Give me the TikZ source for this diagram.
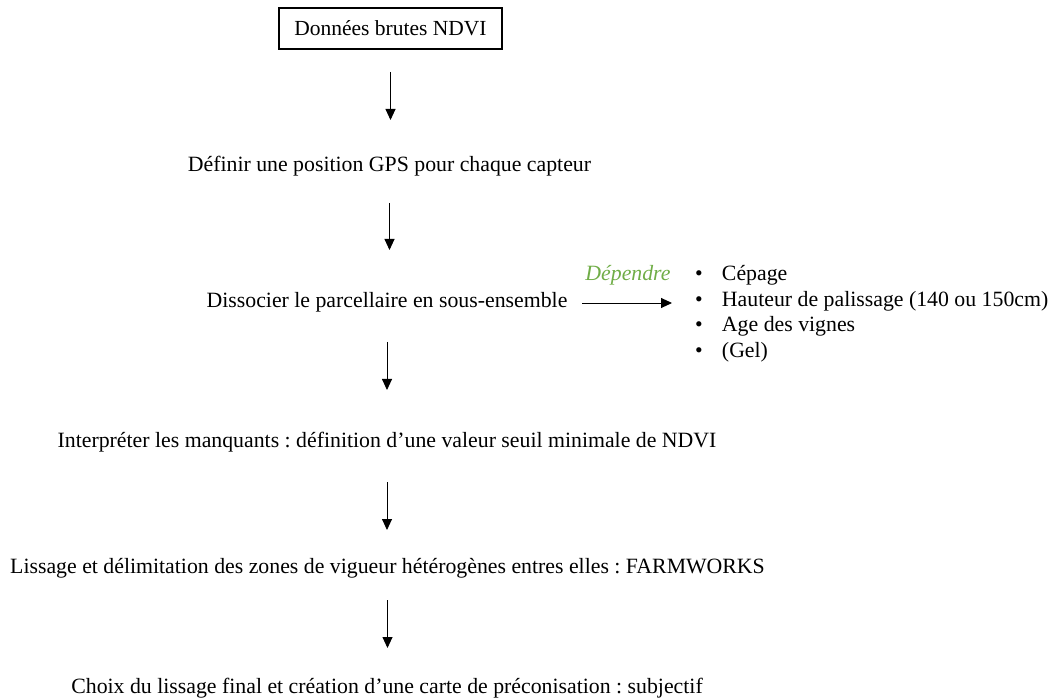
\documentclass[tikz,border=0pt]{standalone}
\usepackage{fontspec}
\setmainfont{Liberation Serif}
\usetikzlibrary{arrows.meta}
\definecolor{vertdep}{RGB}{112,173,71}
\frenchspacing

\begin{document}
\begin{tikzpicture}[x=1pt,y=-1pt,
  etape/.style={inner sep=0pt, outer sep=0pt, anchor=base, text height=15pt, text depth=5pt,
    font=\fontsize{21.8}{25.5}\selectfont},
  fleche/.style={-{Triangle[width=10pt,length=11pt]}, line width=0.9pt}]
\useasboundingbox (0,0) rectangle (1055,700);

% etapes
\node[draw, line width=1.2pt, inner sep=0pt, outer sep=0pt, minimum width=223pt, minimum height=41pt,
  font=\fontsize{21.5}{25.5}\selectfont] (brut) at (390.5,28.5) {Données brutes NDVI};
\node[etape] (gps) at (389.5,172) {Définir une position GPS pour chaque capteur};
\node[etape] (dis) at (387,308) {Dissocier le parcellaire en sous-ensemble};
\node[etape] (int) at (387,447) {Interpréter les manquants : définition d’une valeur seuil minimale de NDVI};
\node[etape] (lis) at (387.5,573) {Lissage et délimitation des zones de vigueur hétérogènes entres elles : FARMWORKS};
\node[etape] (cho) at (387,693) {Choix du lissage final et création d’une carte de préconisation : subjectif};

% criteres
\node[etape, font=\fontsize{21.8}{25.5}\selectfont\itshape, text=vertdep] (dep) at (628,281) {Dépendre};
\node[inner sep=0pt, outer sep=0pt, anchor=base west, font=\fontsize{21.8}{25.5}\selectfont] (crit) at (695,281)
  {\begin{tabular}[t]{@{}l@{}l@{}}
   \makebox[27pt][l]{\textbullet} & Cépage\\
   \makebox[27pt][l]{\textbullet} & Hauteur de palissage (140 ou 150cm)\\
   \makebox[27pt][l]{\textbullet} & Age des vignes\\
   \makebox[27pt][l]{\textbullet} & (Gel)
   \end{tabular}};

% fleches
\draw[fleche, shorten <=23pt, shorten >=37pt] (brut.south) -- (brut.south |- gps.north);
\draw[fleche, shorten <=26pt, shorten >=43pt] (gps.south) -- (gps.south |- dis.north);
\draw[fleche, shorten <=29pt, shorten >=42pt] (dis.south) -- (dis.south |- int.north);
\draw[fleche, shorten <=30pt, shorten >=28pt] (int.south) -- (int.south |- lis.north);
\draw[fleche, shorten <=22pt, shorten >=30pt] (lis.south) -- (lis.south |- cho.north);
\draw[fleche, shorten <=15pt, shorten >=23pt] (dis.east) -- (dis.east -| crit.west);

\end{tikzpicture}
\end{document}
